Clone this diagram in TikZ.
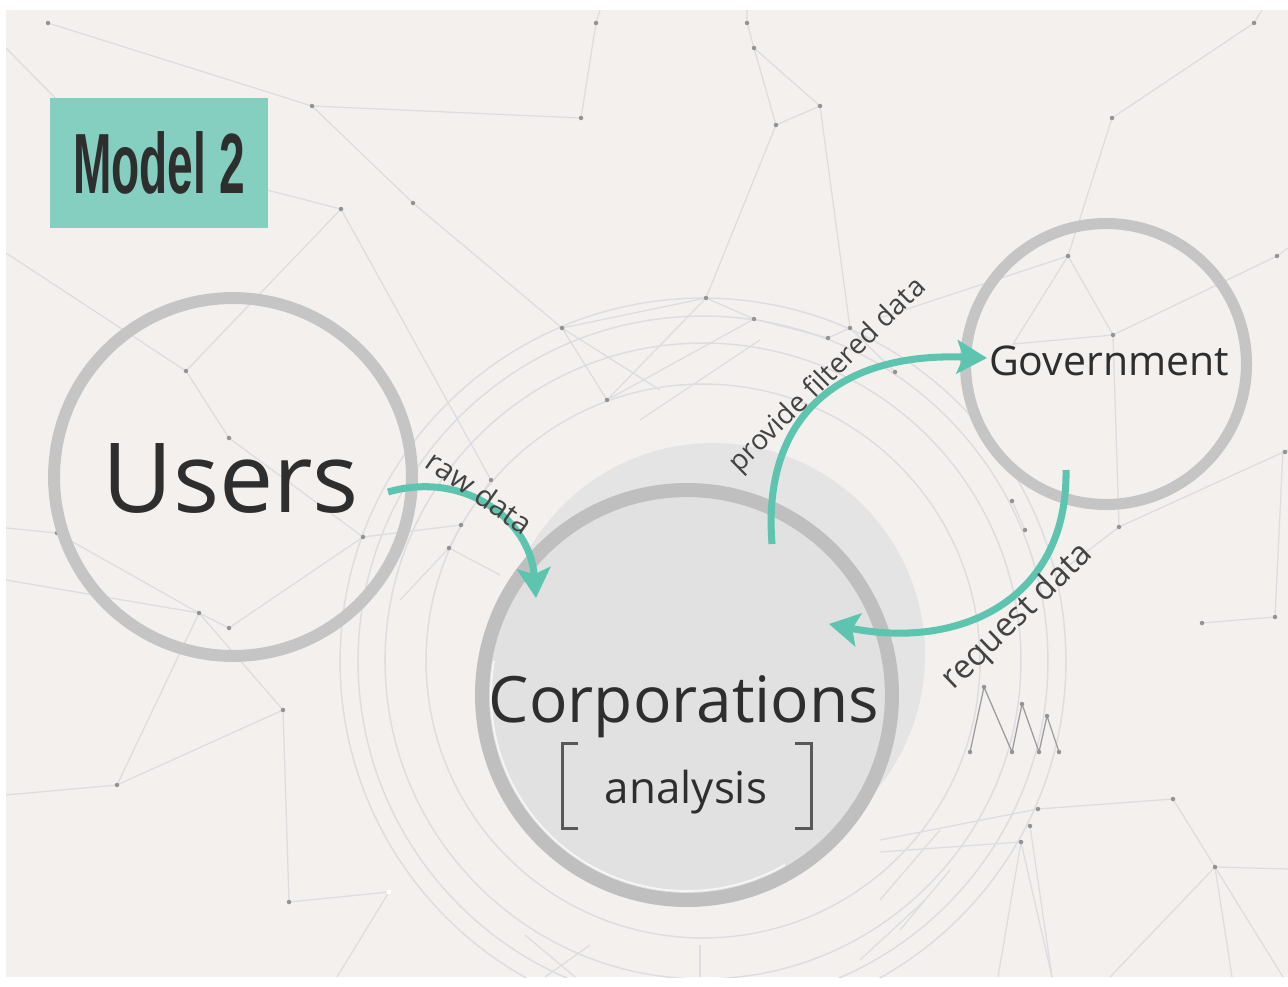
\documentclass[tikz,border=0pt]{standalone}
\usepackage{fontspec}
\usepackage{graphicx}
\setmainfont{Open Sans}
\newfontfamily\titlefont{Liberation Sans}
\usetikzlibrary{arrows.meta}

\definecolor{paper}{HTML}{F3F0ED}
\definecolor{tealbox}{HTML}{84CFC0}
\definecolor{flowteal}{HTML}{5DC5AF}
\definecolor{ringgrey}{HTML}{C5C5C5}
\definecolor{corpring}{HTML}{BFBFBF}
\definecolor{corpfill}{HTML}{E1E1E1}
\definecolor{corpshadow}{HTML}{E4E4E4}
\definecolor{netline}{HTML}{DCDCE1}
\definecolor{netdot}{HTML}{939393}
\definecolor{ink}{HTML}{2E2E2E}

\tikzset{
  ring/.style={circle, draw=ringgrey, inner sep=0pt},
  net/.style={draw=netline, line width=0.7pt},
  orbit/.style={draw=netline, line width=0.8pt},
  flow/.style={draw=flowteal, line width=4pt,
    -{Stealth[length=17pt, width=19pt, inset=3.5pt]}},
  flowlabel/.style={text=ink!90, inner sep=0pt},
  bigtext/.style={text=ink, inner sep=0pt, anchor=base},
}

\begin{document}
\begin{tikzpicture}[x=0.02cm, y=-0.02cm]
\useasboundingbox (0,0) rectangle (1288,987);
\fill[white] (0,0) rectangle (1288,987);
\fill[paper] (6,10) rectangle (1288,977);

% decorative network in the background
\begin{scope}
  \clip (6,10) rectangle (1288,977);
  % rings around the corporations hub
  \foreach \r in {7.26, 6.9, 6.36, 5.54}
    \draw[orbit] (703,661) circle[radius=\r cm];
  % links
  \draw[net] (6,48) -- (75,118);
  \draw[net] (48,23) -- (312,106) -- (581,118) -- (596,23) -- (600,10);
  \draw[net] (312,106) -- (413,203) -- (562,328);
  \draw[net] (220,178) -- (341,209) -- (186,371);
  \draw[net] (341,209) -- (491,480);
  \draw[net] (6,253) -- (186,371) -- (229,438) -- (363,537);
  \draw[net] (6,528) -- (57,533) -- (199,613);
  \draw[net] (6,580) -- (199,613) -- (229,628) -- (363,537);
  \draw[net] (199,613) -- (117,785) -- (6,795);
  \draw[net] (199,613) -- (283,710) -- (117,785);
  \draw[net] (283,710) -- (289,902) -- (389,892) -- (337,977);
  \draw[net] (363,537) -- (461,525) -- (491,480);
  \draw[net] (461,525) -- (449,548) -- (500,575);
  \draw[net] (449,548) -- (400,600);
  \draw[net] (747,10) -- (747,23) -- (754,48) -- (820,106) -- (776,125) -- (754,48);
  \draw[net] (776,125) -- (706,298) -- (754,319);
  \draw[net] (820,106) -- (850,328);
  \draw[net] (706,298) -- (607,400) -- (562,328) -- (660,390);
  \draw[net] (607,400) -- (754,319) -- (828,338) -- (850,328) -- (895,372);
  \draw[net] (562,328) -- (706,298);
  \draw[net] (640,420) -- (760,340);
  \draw[net] (1112,118) -- (1254,23) -- (1262,10);
  \draw[net] (1112,118) -- (1068,256);
  \draw[net] (880,318) -- (1068,256) -- (1113,335) -- (1277,256) -- (1288,248);
  \draw[net] (1068,256) -- (1013,344) -- (1113,335);
  \draw[net] (1113,335) -- (1119,527) -- (1288,450);
  \draw[net] (1119,527) -- (1060,572);
  \draw[net] (1202,623) -- (1275,617) -- (1283,450);
  \draw[net] (1012,501) -- (1025,530);
  \draw[net, draw=netline!70!black] (970,752) -- (984,687) -- (1012,752) -- (1022,704)
    -- (1039,752) -- (1047,716) -- (1059,752);
  \draw[net] (880,840) -- (1038,809) -- (1173,799) -- (1215,867) -- (1288,869);
  \draw[net] (880,852) -- (1021,842) -- (998,977);
  \draw[net] (1021,842) -- (1052,977);
  \draw[net] (1030,826) -- (1052,977);
  \draw[net] (1215,867) -- (1110,977);
  \draw[net] (1215,867) -- (1232,977);
  \draw[net] (1215,867) -- (1283,977);
  \draw[net] (525,935) -- (575,977);
  \draw[net] (545,977) -- (590,945);
  \draw[net] (880,900) -- (940,830);
  \draw[net] (900,930) -- (950,870);
  \draw[net] (860,960) -- (925,900);
  \draw[net] (700,945) -- (700,977);
  % junction dots
  \foreach \p in {(48,23),(312,106),(581,118),(596,23),(341,209),(413,203),
    (186,371),(229,438),(363,537),(57,533),(199,613),(229,628),(283,710),
    (117,785),(289,902),(747,23),(754,48),(820,106),(776,125),(706,298),
    (754,319),(562,328),(607,400),(850,328),(828,338),(895,372),(491,480),
    (461,525),(449,548),(1112,118),(1254,23),(1068,256),(1277,256),
    (1113,335),(1012,501),(1025,530),(1119,527),(1202,623),(1275,617),
    (970,752),(984,687),(1012,752),(1022,704),(1039,752),(1047,716),
    (1059,752),(1038,809),(1030,826),(1021,842),(1173,799),(1215,867),
    (1285,452)}
    \fill[netdot] \p circle[radius=0.045cm];
  \fill[white] (389,892) circle[radius=0.05cm];
\end{scope}

% title tag
\node[fill=tealbox, minimum width=4.36cm, minimum height=2.6cm, inner sep=0pt,
  text=ink] (title) at (159,163)
  {\scalebox{0.55}[1.02]{\titlefont\bfseries\fontsize{47.7pt}{50pt}\selectfont Model 2}};

% corporations hub with its offset halo
\fill[corpshadow] (713,655) circle[radius=4.24cm];
\node[ring, draw=corpring, fill=corpfill, line width=8pt,
  minimum size=8.2cm] (corp) at (687,695) {};
\draw[white, opacity=0.7, line width=1pt] (494,661)
  arc[start angle=170, end angle=300, radius=3.92cm];

% users and government
\node[ring, line width=6.8pt, minimum size=7.16cm] (users) at (233,477) {};
\node[ring, line width=6.3pt, minimum size=5.62cm] (gov) at (1106,364) {};

% names
\node[bigtext] (userslabel) at (231,512)
  {\fontsize{55pt}{60pt}\selectfont Users};
\node[bigtext] (corplabel) at (684,722)
  {\fontsize{36.4pt}{40pt}\selectfont Corporations};
\node[bigtext] (analysislabel) at (686,803)
  {\fontsize{25pt}{28pt}\selectfont analysis};
\node[bigtext] (govlabel) at (1109,375)
  {\fontsize{23.3pt}{26pt}\selectfont Government};

% brackets around "analysis"
\draw[ink!80, line width=1.7pt] (578,743) -- (562,743) -- (562,828) -- (578,828);
\draw[ink!80, line width=1.7pt] (795,743) -- (811,743) -- (811,828) -- (795,828);

% flow end points
\coordinate (rawS) at (388,492);
\coordinate (rawE) at (536,598);
\coordinate (provS) at (772,544);
\coordinate (provE) at (987,358);
\coordinate (reqS) at (1066,470);
\coordinate (reqE) at (829,624);

% flows
\draw[flow] (rawS) .. controls (465,470) and (530,520) .. (rawE);
\draw[flow] (provS) .. controls (762,420) and (835,352) .. (provE);
\draw[flow] (reqS) .. controls (1068,600) and (960,650) .. (reqE);

% flow labels
\node[flowlabel, rotate=-35] (rawlabel) at (480,492)
  {\fontsize{17pt}{20pt}\selectfont raw data};
\node[flowlabel, rotate=44.5] (provlabel) at (828,376)
  {\fontsize{15.9pt}{18pt}\selectfont provide filtered data};
\node[flowlabel, rotate=44] (reqlabel) at (1018,617)
  {\fontsize{18.8pt}{21pt}\selectfont request data};
\end{tikzpicture}
\end{document}
